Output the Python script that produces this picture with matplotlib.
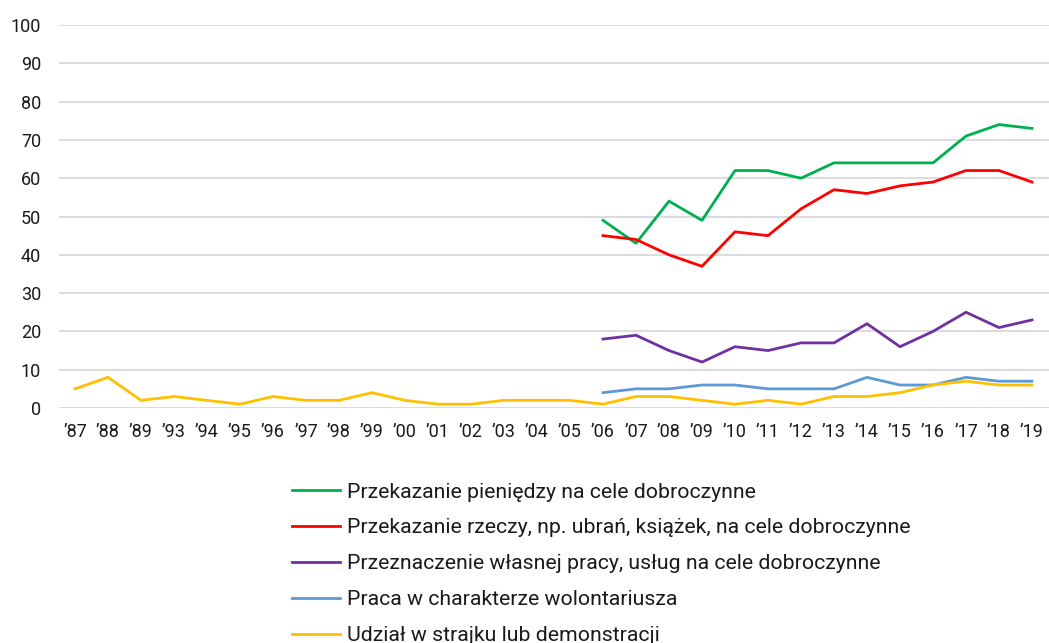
import numpy as np
import matplotlib
matplotlib.use("Agg")
import matplotlib.pyplot as plt

plt.rcParams["font.family"] = ["Roboto", "DejaVu Sans"]

# ============================================================
# DATA
# ============================================================
years = ["’87", "’88", "’89", "’93", "’94", "’95", "’96", "’97", "’98", "’99",
         "’00", "’01", "’02", "’03", "’04", "’05", "’06", "’07", "’08", "’09",
         "’10", "’11", "’12", "’13", "’14", "’15", "’16", "’17", "’18", "’19"]

# series from '06 onward
money = [49, 43, 54, 49, 62, 62, 60, 64, 64, 64, 64, 71, 74, 73]
things = [45, 44, 40, 37, 46, 45, 52, 57, 56, 58, 59, 62, 62, 59]
own_work = [18, 19, 15, 12, 16, 15, 17, 17, 22, 16, 20, 25, 21, 23]
volunteer = [4, 5, 5, 6, 6, 5, 5, 5, 8, 6, 6, 8, 7, 7]
# full range
strike = [5, 8, 2, 3, 2, 1, 3, 2, 2, 4, 2, 1, 1, 2, 2, 2, 1, 3, 3, 2,
          1, 2, 1, 3, 3, 4, 6, 7, 6, 6]

labels = [
    "Przekazanie pieniędzy na cele dobroczynne",
    "Przekazanie rzeczy, np. ubrań, książek, na cele dobroczynne",
    "Przeznaczenie własnej pracy, usług na cele dobroczynne",
    "Praca w charakterze wolontariusza",
    "Udział w strajku lub demonstracji",
]
colors = ["#00B050", "#FF0000", "#7030A0", "#5B9BD5", "#FFC000"]

# ============================================================
# PLOT
# ============================================================
fig = plt.figure(figsize=(10.49, 6.43), dpi=100)
ax = fig.add_axes([58.5 / 1049, (643 - 408) / 643, 990 / 1049, 383 / 643])

x = np.arange(len(years))
start = years.index("’06")
series = [money, things, own_work, volunteer]
for vals, lab, col in zip(series, labels[:4], colors[:4]):
    ax.plot(x[start:], vals, color=col, linewidth=2, label=lab,
            solid_joinstyle="round", zorder=3)
ax.plot(x, strike, color=colors[4], linewidth=2, label=labels[4],
        solid_joinstyle="round", zorder=3)

ax.set_xlim(-0.5, len(years) - 0.5)
ax.set_ylim(0, 100)
ax.set_yticks(range(0, 101, 10))
ax.set_xticks(x)
ax.set_xticklabels(years)
ax.grid(axis="y", color="#D9D9D9", linewidth=1.3, zorder=0)
for s in ax.spines.values():
    s.set_visible(False)
ax.tick_params(axis="both", length=0, labelsize=13, colors="#1a1a1a")
ax.tick_params(axis="x", pad=11)
ax.tick_params(axis="y", pad=12.5)

# legend sits below the plot and runs off the bottom edge, as in the source
leg = fig.legend(loc="upper left", bbox_to_anchor=(283 / 1049, 1 - 474 / 643),
                 frameon=False, fontsize=15.3, handlelength=2.3,
                 handletextpad=0.32, labelspacing=0.795, borderaxespad=0)
for t in leg.get_texts():
    t.set_color("#1a1a1a")

fig.savefig("out.png", dpi=100)
